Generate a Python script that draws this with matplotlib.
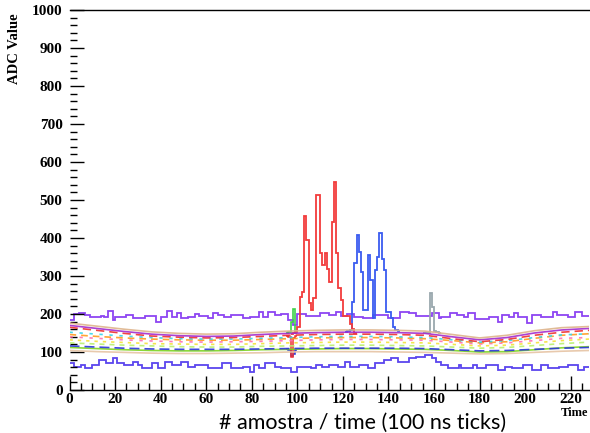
import numpy as np
import matplotlib
matplotlib.use("Agg")
import matplotlib.pyplot as plt
from matplotlib.ticker import MultipleLocator

# ---------------------------------------------------------------- data
N_SAMPLES = 228

# upper and lower violet traces, one value per sample
upper_band = [
    184, 184, 200, 200, 203, 203, 203, 197, 197, 193,
    193, 191, 193, 193, 195, 193, 193, 209, 209, 184,
    191, 191, 191, 191, 191, 197, 197, 197, 190, 190,
    190, 190, 190, 195, 195, 195, 195, 195, 180, 180,
    192, 192, 192, 209, 209, 193, 193, 203, 203, 189,
    189, 189, 193, 193, 193, 199, 199, 195, 195, 195,
    195, 189, 189, 203, 203, 197, 197, 197, 191, 191,
    191, 197, 197, 197, 197, 197, 189, 189, 189, 193,
    193, 193, 193, 206, 206, 193, 193, 204, 204, 204,
    197, 197, 197, 199, 199, 199, 184, 184, 171, 171,
    201, 201, 201, 201, 196, 196, 195, 195, 195, 195,
    202, 202, 202, 202, 197, 197, 197, 206, 206, 195,
    195, 195, 199, 199, 199, 193, 193, 193, 193, 189,
    189, 189, 189, 197, 197, 197, 197, 197, 197, 197,
    189, 189, 189, 189, 189, 206, 206, 206, 206, 202,
    202, 202, 196, 196, 196, 196, 196, 196, 196, 202,
    202, 202, 189, 193, 193, 193, 193, 202, 202, 202,
    197, 197, 197, 193, 193, 202, 202, 202, 186, 186,
    186, 186, 186, 186, 193, 193, 193, 193, 180, 180,
    197, 197, 197, 193, 193, 202, 202, 193, 193, 193,
    193, 176, 176, 197, 197, 197, 197, 193, 193, 193,
    193, 193, 206, 206, 197, 197, 197, 197, 197, 193,
    193, 193, 206, 206, 206, 195, 195, 195,
]

lower_band = [
    70, 70, 61, 61, 61, 66, 66, 57, 57, 57,
    66, 66, 66, 79, 79, 79, 70, 70, 70, 83,
    83, 72, 72, 72, 66, 66, 66, 66, 75, 75,
    66, 66, 57, 57, 57, 57, 70, 70, 70, 57,
    57, 57, 75, 75, 75, 66, 66, 66, 66, 75,
    75, 75, 61, 61, 61, 66, 66, 66, 66, 66,
    66, 57, 57, 57, 57, 57, 57, 70, 70, 70,
    70, 57, 57, 57, 57, 57, 61, 61, 61, 48,
    48, 66, 66, 57, 57, 57, 70, 70, 70, 70,
    61, 61, 61, 57, 57, 57, 57, 48, 48, 48,
    61, 61, 61, 61, 61, 61, 57, 57, 66, 66,
    66, 61, 61, 61, 66, 66, 66, 66, 61, 61,
    61, 74, 74, 61, 61, 61, 61, 66, 66, 66,
    66, 57, 57, 57, 70, 70, 70, 70, 79, 79,
    79, 83, 83, 83, 74, 74, 74, 74, 74, 83,
    83, 83, 88, 88, 88, 88, 92, 92, 92, 84,
    84, 75, 75, 66, 66, 66, 57, 57, 57, 57,
    57, 66, 57, 57, 57, 57, 57, 66, 66, 57,
    57, 57, 57, 66, 66, 66, 66, 66, 53, 53,
    53, 61, 61, 61, 57, 57, 57, 57, 57, 66,
    66, 66, 66, 53, 53, 53, 53, 66, 66, 66,
    57, 57, 57, 57, 57, 61, 61, 61, 61, 66,
    66, 66, 66, 53, 53, 53, 61, 61,
]

# pedestal channels, sampled every 12 ticks
pedestal_ticks = [0, 12, 24, 36, 48, 60, 72, 84, 96, 108, 120, 132, 144, 156,
                  168, 180, 192, 204, 216, 228]
ped_tan = [176, 168, 160, 153, 149, 147, 148, 152, 155, 157, 158, 158, 157, 155,
           146, 137, 144, 156, 164, 167]
ped_magenta = [170, 162, 154, 147, 143, 141, 142, 146, 149, 151, 152, 152, 151, 149,
               140, 132, 138, 150, 158, 162]
ped_red = [165, 157, 149, 142, 139, 137, 138, 141, 144, 146, 147, 147, 146, 144,
           135, 127, 133, 144, 152, 157]
ped_cyan = [152, 147, 142, 138, 135, 134, 134, 136, 138, 140, 141, 141, 140, 138,
            132, 126, 130, 138, 145, 148]
ped_orange = [146, 141, 137, 134, 132, 131, 131, 133, 135, 137, 138, 138, 137, 135,
              130, 124, 127, 136, 144, 148]
ped_pink = [140, 136, 132, 129, 127, 126, 127, 128, 130, 132, 133, 133, 132, 131,
            126, 121, 124, 130, 136, 138]
ped_yellow = [132, 128, 125, 122, 121, 120, 120, 122, 124, 125, 126, 126, 125, 124,
              120, 116, 118, 124, 130, 134]
ped_lightgreen = [124, 121, 118, 116, 114, 113, 113, 115, 116, 117, 118, 118, 117, 116,
                  113, 110, 112, 117, 122, 126]
ped_blue = [116, 113, 110, 108, 107, 107, 107, 108, 109, 110, 110, 110, 110, 109,
            106, 103, 104, 107, 110, 112]
ped_green = [112, 109, 106, 104, 103, 103, 104, 106, 107, 108, 109, 109, 108, 107,
             104, 100, 101, 106, 111, 114]
ped_lowtan = [104, 101, 99, 97, 96, 96, 97, 98, 100, 101, 101, 101, 100, 99,
              97, 95, 96, 99, 102, 104]

# pulses (first sample, values)
red_pulse_start = 97
red_pulse = [148, 150, 152, 167, 245, 259, 458, 395, 229, 210, 242, 513, 513, 360,
             329, 360, 318, 284, 442, 547, 360, 268, 237, 196, 196, 196, 175, 160, 150]

blue_pulse_start = 121
blue_pulse = [152, 155, 158, 232, 333, 408, 364, 311, 211, 211, 355, 289, 189, 316,
              351, 412, 346, 316, 206, 206, 189, 167, 158, 155]

grey_pulse_start = 155
grey_pulse = [150, 151, 150, 256, 218, 155, 152, 150]

green_pulse_start = 95
green_pulse = [150, 152, 180, 212, 150]

dip_start = 95
dip_blue = [107, 104, 90, 95, 106]
dip_red = [142, 140, 88, 138, 141]

# ---------------------------------------------------------------- figure
W, H = 590, 433
fig = plt.figure(figsize=(W / 100, H / 100), dpi=100)
ax = fig.add_axes([69.5 / W, 1 - 390 / H, 519.5 / W, 380 / H])


def step_trace(values, start, color, lw=1.2, **kw):
    vals = np.asarray(values, dtype=float)
    edges = np.arange(start, start + len(vals) + 1)
    ax.stairs(vals, edges, color=color, lw=lw, baseline=None, **kw)


pedestals = [
    (ped_lowtan, "#e6c4a4", "-"),
    (ped_green, "#7ed321", "-"),
    (ped_blue, "#2a35d8", (0, (6, 3))),
    (ped_lightgreen, "#b8f070", (0, (3, 3))),
    (ped_yellow, "#f2e23a", (0, (2, 3))),
    (ped_pink, "#ff70b0", (0, (2, 4))),
    (ped_orange, "#ff9a1f", (0, (4, 3))),
    (ped_cyan, "#35d5ea", (0, (2, 4))),
    (ped_red, "#ee3030", (0, (5, 3))),
    (ped_magenta, "#a32ccc", "-"),
    (ped_tan, "#deb48c", "-"),
]
for vals, col, ls in pedestals:
    ax.plot(pedestal_ticks, vals, color=col, lw=1.2, ls=ls, alpha=0.9)

step_trace(lower_band, 0, "#5b45ee", lw=1.3)
step_trace(upper_band, 0, "#8d45f2", lw=1.3)

step_trace(dip_blue, dip_start, "#2a35d8", lw=1.1)
step_trace(dip_red, dip_start, "#ee3030", lw=1.1)
step_trace(green_pulse, green_pulse_start, "#3fd24a", lw=1.2)
step_trace(grey_pulse, grey_pulse_start, "#9aa8ae", lw=1.3)
step_trace(blue_pulse, blue_pulse_start, "#3a5cf0", lw=1.3)
step_trace(red_pulse, red_pulse_start, "#f23c3c", lw=1.3)

# ---------------------------------------------------------------- axes
ax.set_xlim(0, N_SAMPLES)
ax.set_ylim(0, 1000)
ax.xaxis.set_major_locator(MultipleLocator(20))
ax.xaxis.set_minor_locator(MultipleLocator(5))
ax.yaxis.set_major_locator(MultipleLocator(100))
ax.yaxis.set_minor_locator(MultipleLocator(20))
ax.tick_params(which="both", direction="in", colors="black", width=1.0)
ax.tick_params(which="major", length=10)
ax.tick_params(which="minor", length=5)
ax.tick_params(axis="x", pad=2)
ax.tick_params(axis="y", pad=5)

for lab in ax.get_xticklabels() + ax.get_yticklabels():
    lab.set_fontfamily("Liberation Serif")
    lab.set_fontweight("bold")
    lab.set_fontsize(11)

ax.spines["left"].set_visible(False)
ax.spines["right"].set_visible(False)
ax.spines["top"].set_linewidth(1.0)
ax.spines["bottom"].set_linewidth(1.0)

fig.text(15 / W, 1 - 13 / H, "ADC Value", rotation=90, ha="center", va="top",
         family="Liberation Serif", weight="bold", size=10.5)
fig.text(588 / W, 1 - 413 / H, "Time", ha="right", va="center",
         family="Liberation Serif", weight="bold", size=9)
fig.text(363 / W, 1 - 423 / H, "# amostra / time (100 ns ticks)", ha="center",
         va="center", family="Lato", size=15.5)

fig.savefig("out.png", dpi=100)
